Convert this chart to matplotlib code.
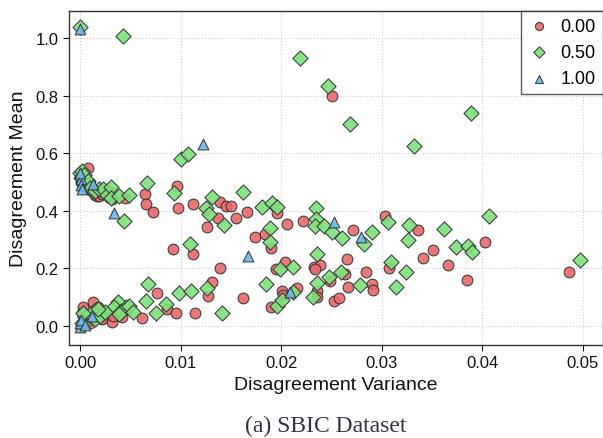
import numpy as np
import matplotlib
matplotlib.use("Agg")
import matplotlib.pyplot as plt

plt.rcParams['font.family'] = ['Liberation Sans', 'DejaVu Sans']

# 数据: (variance, mean) 按标签分组
red_var = [0.0000, 0.0001, 0.0002, 0.0003, 0.0005, 0.0008, 0.0008, 0.0012, 0.0015, 0.0017,
           0.0019, 0.0022, 0.0028, 0.0032, 0.0045,
           0.0065, 0.0066, 0.0073, 0.0096, 0.0097, 0.0112, 0.0139, 0.0145, 0.0150, 0.0137,
           0.0126, 0.0155, 0.0166, 0.0174, 0.0184, 0.0190, 0.0196, 0.0206, 0.0222, 0.0092,
           0.0112, 0.0139, 0.0204, 0.0233, 0.0271, 0.0303, 0.0336, 0.0351, 0.0341, 0.0265,
           0.0366, 0.0239, 0.0385, 0.0403, 0.0486, 0.0251,
           0.0195, 0.0201, 0.0202, 0.0216, 0.0190, 0.0234, 0.0236, 0.0236, 0.0249, 0.0253,
           0.0257, 0.0263, 0.0266, 0.0284, 0.0290, 0.0291, 0.0307,
           0.0003, 0.0013, 0.0018, 0.0025, 0.0032, 0.0033, 0.0042, 0.0062, 0.0077, 0.0086,
           0.0095, 0.0114, 0.0131, 0.0127, 0.0162,
           0.0005, 0.0010, 0.0002, 0.0015, 0.0022]
red_mean = [0.520, 0.500, 0.535, 0.490, 0.510, 0.548, 0.480, 0.470, 0.455, 0.450,
            0.452, 0.460, 0.470, 0.440, 0.445,
            0.458, 0.424, 0.396, 0.486, 0.410, 0.424, 0.430, 0.417, 0.417, 0.375,
            0.344, 0.375, 0.396, 0.309, 0.319, 0.270, 0.392, 0.354, 0.365, 0.267,
            0.250, 0.200, 0.222, 0.205, 0.333, 0.382, 0.333, 0.264, 0.236, 0.233,
            0.212, 0.212, 0.160, 0.292, 0.188, 0.800,
            0.198, 0.122, 0.108, 0.132, 0.066, 0.198, 0.122, 0.100, 0.156, 0.087,
            0.097, 0.180, 0.135, 0.188, 0.146, 0.125, 0.201,
            0.066, 0.083, 0.066, 0.031, 0.014, 0.035, 0.031, 0.028, 0.115, 0.059,
            0.045, 0.045, 0.153, 0.104, 0.097,
            0.020, 0.010, 0.045, 0.040, 0.025]

green_var = [0.0000, 0.0043, 0.0219, 0.0247, 0.0268, 0.0389, 0.0332, 0.0100, 0.0107,
             0.0000, 0.0001, 0.0002, 0.0003, 0.0004, 0.0006, 0.0008, 0.0010, 0.0015, 0.0019,
             0.0023, 0.0027, 0.0031, 0.0031, 0.0039, 0.0049, 0.0044, 0.0067, 0.0093,
             0.0131, 0.0162, 0.0125, 0.0128, 0.0143, 0.0181, 0.0191, 0.0196, 0.0189, 0.0189,
             0.0109, 0.0235, 0.0235, 0.0234, 0.0243, 0.0251, 0.0260, 0.0282, 0.0290, 0.0306,
             0.0327, 0.0326, 0.0362, 0.0374, 0.0386, 0.0390, 0.0407, 0.0497,
             0.0236, 0.0199, 0.0212, 0.0185, 0.0248, 0.0259, 0.0278, 0.0236, 0.0232, 0.0309,
             0.0324, 0.0314, 0.0196, 0.0201, 0.0212, 0.0098, 0.0110, 0.0126, 0.0141, 0.0068,
             0.0066, 0.0085, 0.0076, 0.0038, 0.0034, 0.0041, 0.0046, 0.0049, 0.0053, 0.0039,
             0.0013, 0.0005, 0.0008, 0.0010, 0.0015, 0.0020, 0.0025, 0.0002, 0.0003, 0.0018]
green_mean = [1.038, 1.007, 0.930, 0.833, 0.700, 0.740, 0.625, 0.580, 0.597,
              0.530, 0.515, 0.540, 0.500, 0.525, 0.490, 0.505, 0.480, 0.470, 0.477,
              0.476, 0.455, 0.483, 0.444, 0.451, 0.455, 0.365, 0.497, 0.462,
              0.448, 0.465, 0.410, 0.389, 0.351, 0.413, 0.427, 0.413, 0.340, 0.292,
              0.285, 0.410, 0.372, 0.347, 0.347, 0.326, 0.306, 0.285, 0.326, 0.361,
              0.351, 0.299, 0.337, 0.274, 0.278, 0.257, 0.382, 0.229,
              0.250, 0.198, 0.205, 0.146, 0.170, 0.188, 0.142, 0.149, 0.100, 0.222,
              0.188, 0.135, 0.069, 0.090, 0.118, 0.115, 0.122, 0.132, 0.045, 0.146,
              0.087, 0.076, 0.045, 0.083, 0.066, 0.052, 0.066, 0.069, 0.049, 0.042,
              0.049, 0.030, 0.020, 0.040, 0.025, 0.035, 0.050, 0.010, 0.045, 0.060]

blue_var = [0.0000, 0.0122, 0.0034, 0.0013, 0.0001, 0.0000, 0.0001, 0.0002, 0.0167,
            0.0253, 0.0279, 0.0209, 0.0012, 0.0000, 0.0000, 0.0001, 0.0005]
blue_mean = [1.030, 0.632, 0.392, 0.493, 0.510, 0.530, 0.490, 0.475, 0.243,
             0.361, 0.309, 0.118, 0.035, -0.003, 0.010, 0.020, 0.005]

labels = ['0.00', '0.50', '1.00']

fig = plt.figure(figsize=(6.03, 4.39), dpi=100)
ax = fig.add_axes([0.1144, 0.2118, 0.8856, 0.7609])

ax.scatter(red_var, red_mean, s=60, marker='o', c='#e8696b', edgecolors='#333333',
           linewidths=0.8, alpha=0.9, label=labels[0], zorder=3)
ax.scatter(green_var, green_mean, s=60, marker='D', c='#7fe07b', edgecolors='#333333',
           linewidths=0.8, alpha=0.9, label=labels[1], zorder=3)
ax.scatter(blue_var, blue_mean, s=60, marker='^', c='#6bb8ec', edgecolors='#333333',
           linewidths=0.8, alpha=0.9, label=labels[2], zorder=3)

ax.set_xlim(-0.0011, 0.052)
ax.set_ylim(-0.066, 1.094)
ax.set_xticks([0.00, 0.01, 0.02, 0.03, 0.04, 0.05])
ax.set_yticks([0.0, 0.2, 0.4, 0.6, 0.8, 1.0])
ax.xaxis.set_major_formatter(matplotlib.ticker.FormatStrFormatter('%.2f'))
ax.yaxis.set_major_formatter(matplotlib.ticker.FormatStrFormatter('%.1f'))
ax.tick_params(labelsize=12, colors='#111111', length=4)
ax.grid(True, linestyle=':', color='#d0d0d0', linewidth=0.8, zorder=0)
for sp in ax.spines.values():
    sp.set_color('#333333')
    sp.set_linewidth(1.0)

ax.set_xlabel('Disagreement Variance', fontsize=14, color='#111111', labelpad=4)
ax.set_ylabel('Disagreement Mean', fontsize=14, color='#111111', labelpad=6)

leg = ax.legend(loc='upper right', fontsize=13, markerscale=0.75, frameon=True,
                fancybox=False, borderaxespad=0.0, handletextpad=0.6,
                handlelength=1.2)
leg.get_frame().set_edgecolor('#333333')
leg.get_frame().set_linewidth(1.0)

fig.text(0.54, 0.005, '(a) SBIC Dataset', ha='center', va='bottom', fontsize=17,
         color='#333344', family=['Liberation Serif', 'DejaVu Serif'])

fig.savefig('out.png', dpi=100)
